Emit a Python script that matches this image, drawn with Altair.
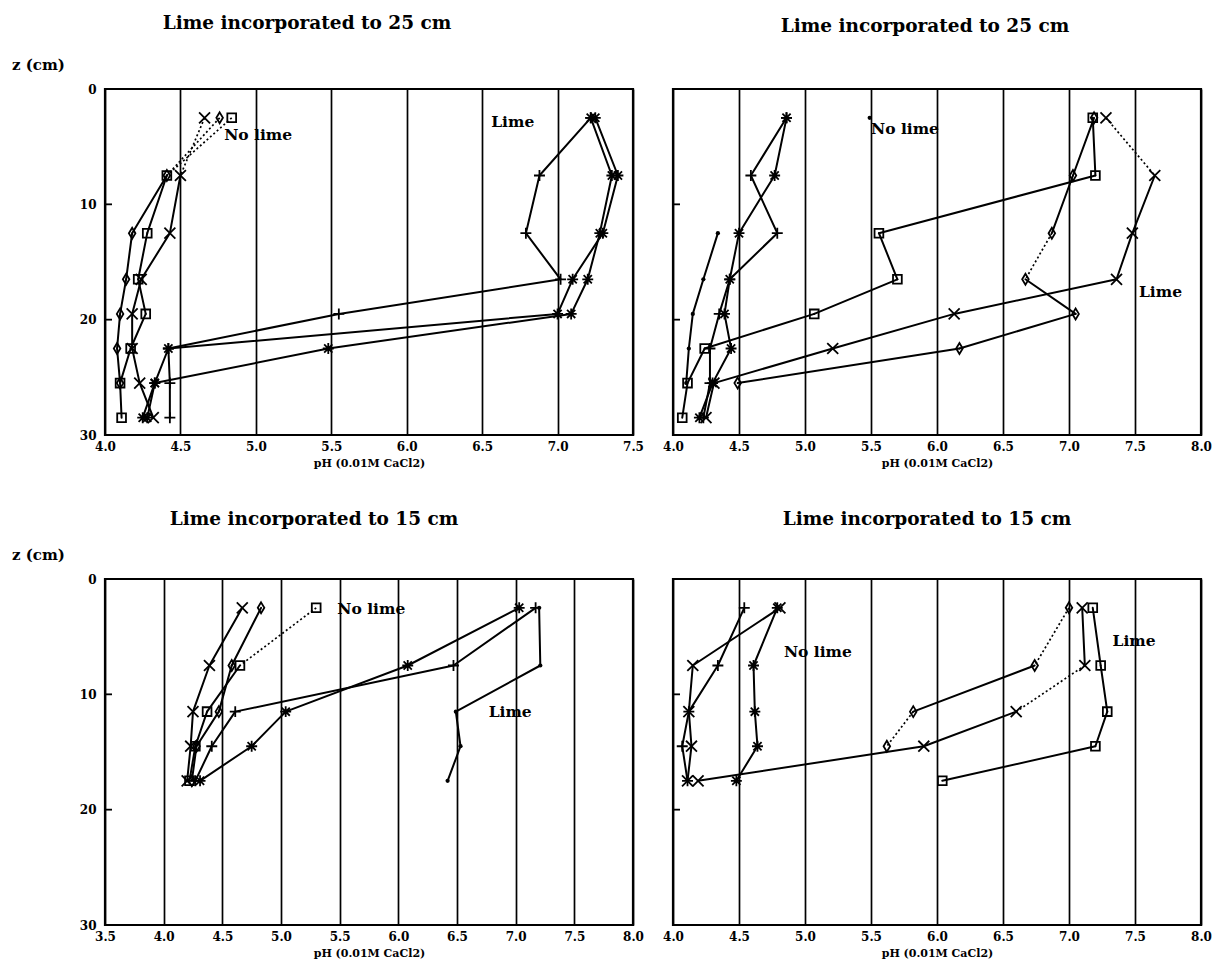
import altair as alt
import pandas as pd

FONT = "DejaVu Serif"

# ---------------- data ----------------
# Panel 1: Lime incorporated to 25 cm (left)
P1_Z = [2.5, 7.5, 12.5, 16.5, 19.5, 22.5, 25.5, 28.5]
P1_NOLIME_X = [4.66, 4.50, 4.43, 4.24, 4.18, 4.18, 4.23, 4.32]
P1_NOLIME_D = [4.76, 4.41, 4.18, 4.14, 4.10, 4.08, 4.10, None]
P1_NOLIME_S = [4.84, 4.41, 4.28, 4.22, 4.27, 4.17, 4.10, 4.11]
P1_LIME_P = [7.22, 6.88, 6.79, 7.02, 5.55, 4.42, 4.43, 4.43]
P1_LIME_A = [7.22, 7.36, 7.28, 7.20, 7.09, 5.48, 4.33, 4.25]
P1_LIME_B = [7.25, 7.40, 7.30, 7.10, 7.00, 4.42, 4.33, 4.28]

# Panel 2: Lime incorporated to 25 cm (right)
P2_Z = [2.5, 7.5, 12.5, 16.5, 19.5, 22.5, 25.5, 28.5]
P2_NOLIME_A = [4.86, 4.77, 4.50, 4.43, 4.39, 4.44, 4.30, 4.20]
P2_NOLIME_P = [4.86, 4.59, 4.79, 4.43, 4.35, 4.28, 4.28, 4.23]
P2_NOLIME_O = [5.49, None, 4.34, 4.23, 4.15, 4.12, 4.10, None]
P2_LIME_S = [7.18, 7.20, 5.56, 5.70, 5.07, 4.24, 4.11, 4.07]
P2_LIME_D = [7.19, 7.03, 6.87, 6.67, 7.05, 6.17, 4.49, None]
P2_LIME_X = [7.28, 7.65, 7.48, 7.36, 6.13, 5.21, 4.31, 4.25]

# Panel 3: Lime incorporated to 15 cm (left)
P3_Z = [2.5, 7.5, 11.5, 14.5, 17.5]
P3_NOLIME_X = [4.67, 4.39, 4.25, 4.23, 4.20]
P3_NOLIME_D = [4.83, 4.58, 4.47, 4.28, 4.24]
P3_NOLIME_S = [5.30, 4.65, 4.37, 4.27, 4.22]
P3_LIME_P = [7.17, 6.47, 4.61, 4.41, 4.27]
P3_LIME_A = [7.03, 6.08, 5.04, 4.75, 4.31]
P3_LIME_O = [7.20, 7.21, 6.49, 6.53, 6.42]

# Panel 4: Lime incorporated to 15 cm (right)
P4_Z = [2.5, 7.5, 11.5, 14.5, 17.5]
P4_NOLIME_A = [4.79, 4.61, 4.62, 4.64, 4.48]
P4_NOLIME_P = [4.54, 4.34, 4.12, 4.07, 4.11]
P4_NOLIME_X = [4.81, 4.15, 4.12, 4.14, 4.11]
P4_LIME_D = [7.00, 6.74, 5.82, 5.62, None]
P4_LIME_X = [7.10, 7.12, 6.60, 5.90, 4.19]
P4_LIME_S = [7.18, 7.24, 7.29, 7.20, 6.04]

TITLE_25 = "Lime incorporated to 25 cm"
TITLE_15 = "Lime incorporated to 15 cm"
X_TITLE = "pH (0.01M CaCl2)"
Y_TITLE = "z (cm)"
Y_TICKS = [0, 10, 20, 30]
X_TICKS_P1 = [4.0, 4.5, 5.0, 5.5, 6.0, 6.5, 7.0, 7.5]
X_TICKS_P2 = [4.0, 4.5, 5.0, 5.5, 6.0, 6.5, 7.0, 7.5, 8.0]
X_TICKS_P3 = [3.5, 4.0, 4.5, 5.0, 5.5, 6.0, 6.5, 7.0, 7.5, 8.0]
X_TICKS_P4 = [4.0, 4.5, 5.0, 5.5, 6.0, 6.5, 7.0, 7.5, 8.0]
INNER_TICKS = [10, 20]

# ---------------- styling ----------------
SHAPES = {
    "x": "M-1,-1L1,1M-1,1L1,-1",
    "plus": "M-1,0L1,0M0,-1L0,1",
    "star": "M-1,0L1,0M0,-1L0,1M-0.75,-0.75L0.75,0.75M-0.75,0.75L0.75,-0.75",
    "diamond": "M0,-1L0.6,0L0,1L-0.6,0Z",
    "square": "M-0.8,-0.8L0.8,-0.8L0.8,0.8L-0.8,0.8Z",
    "dot": "circle",
}
W, H = 528, 346


def panel(z, series, xdom, xticks, title, labels, show_y, title_dx, title_y, zlab_y):
    pts, solid, dotted = [], [], []
    for marker, vals, dots in series:
        prev = None
        for i, (zz, v) in enumerate(zip(z, vals)):
            if v is None:
                prev = None
                continue
            pts.append({"pH": v, "z": zz, "shape": SHAPES[marker],
                        "kind": "dot" if marker == "dot" else "sym"})
            if prev is not None:
                seg = {"x": prev[0], "y": prev[1], "x2": v, "y2": zz}
                (dotted if (i - 1) in dots else solid).append(seg)
            prev = (v, zz)

    xs = alt.Scale(domain=xdom, nice=False, zero=False)
    ys = alt.Scale(domain=[0, 30], reverse=True, nice=False, zero=False)
    xaxis = alt.Axis(values=xticks, format=".1f", grid=True, gridColor="black",
                     gridWidth=1.7, gridOpacity=1, ticks=False, domain=False,
                     labelFont=FONT, labelFontSize=12, labelFontWeight="bold",
                     labelColor="black", labelPadding=6, labelFlush=False,
                     labelOverlap=False, title=X_TITLE, titleFont=FONT,
                     titleFontSize=11, titleFontWeight="bold", titleColor="black",
                     titlePadding=5)
    if show_y:
        yaxis = alt.Axis(values=Y_TICKS, ticks=False, domain=False, grid=False,
                         labelFont=FONT, labelFontSize=12, labelFontWeight="bold",
                         labelColor="black", labelPadding=9, title=None)
    else:
        yaxis = None

    def X(f):
        return alt.X(f, scale=xs, axis=xaxis)

    def Y(f):
        return alt.Y(f, scale=ys, axis=yaxis)

    layers = []
    layers.append(alt.Chart(pd.DataFrame(solid)).mark_rule(
        color="black", strokeWidth=2, strokeCap="round").encode(
        x=X("x:Q"), y=Y("y:Q"), x2="x2:Q", y2="y2:Q"))
    if dotted:
        layers.append(alt.Chart(pd.DataFrame(dotted)).mark_rule(
            color="black", strokeWidth=1.7, strokeDash=[2, 2.5]).encode(
            x=X("x:Q"), y=Y("y:Q"), x2="x2:Q", y2="y2:Q"))
    dfp = pd.DataFrame(pts)
    sym = dfp[dfp["kind"] == "sym"]
    dot = dfp[dfp["kind"] == "dot"]
    layers.append(alt.Chart(sym).mark_point(
        filled=False, color="black", strokeWidth=1.8, size=120, opacity=1).encode(
        x=X("pH:Q"), y=Y("z:Q"), shape=alt.Shape("shape:N", scale=None)))
    if len(dot):
        layers.append(alt.Chart(dot).mark_circle(color="black", size=18, opacity=1).encode(
            x=X("pH:Q"), y=Y("z:Q")))
    layers.append(alt.Chart(pd.DataFrame({"t": INNER_TICKS})).mark_rule(
        color="black", strokeWidth=1.8).encode(
        y=Y("t:Q"), x=alt.value(0), x2=alt.value(7)))
    layers.append(alt.Chart(pd.DataFrame(labels)).mark_text(
        align="left", baseline="middle", font=FONT, fontSize=15.5,
        fontWeight="bold", color="black").encode(
        x=X("x:Q"), y=Y("y:Q"), text="text:N"))
    # panel title above the frame
    layers.append(alt.Chart(pd.DataFrame({"t": [title]})).mark_text(
        align="center", baseline="middle", font=FONT, fontSize=18.5,
        fontWeight="bold", color="black").encode(
        x=alt.value(W / 2 + title_dx), y=alt.value(title_y), text="t:N"))
    if show_y:
        layers.append(alt.Chart(pd.DataFrame({"t": [Y_TITLE]})).mark_text(
            align="left", baseline="middle", font=FONT, fontSize=15,
            fontWeight="bold", color="black").encode(
            x=alt.value(-93), y=alt.value(zlab_y), text="t:N"))

    return alt.layer(*layers).properties(width=W, height=H)


p1 = panel(P1_Z, [("x", P1_NOLIME_X, [0]), ("diamond", P1_NOLIME_D, [0]),
                  ("square", P1_NOLIME_S, [0]), ("plus", P1_LIME_P, []),
                  ("star", P1_LIME_A, []), ("star", P1_LIME_B, [])],
           [4.0, 7.5], X_TICKS_P1, TITLE_25,
           {"x": [4.79, 6.56], "y": [4.0, 2.9], "text": ["No lime", "Lime"]}, True,
           -62, -66, -24)

p2 = panel(P2_Z, [("star", P2_NOLIME_A, []), ("plus", P2_NOLIME_P, []),
                  ("dot", P2_NOLIME_O, []), ("square", P2_LIME_S, []),
                  ("diamond", P2_LIME_D, [2]), ("x", P2_LIME_X, [0])],
           [4.0, 8.0], X_TICKS_P2, TITLE_25,
           {"x": [5.50, 7.53], "y": [3.5, 17.6], "text": ["No lime", "Lime"]}, False,
           -12, -63, -24)

p3 = panel(P3_Z, [("x", P3_NOLIME_X, []), ("diamond", P3_NOLIME_D, []),
                  ("square", P3_NOLIME_S, [0]), ("plus", P3_LIME_P, []),
                  ("star", P3_LIME_A, []), ("dot", P3_LIME_O, [])],
           [3.5, 8.0], X_TICKS_P3, TITLE_15,
           {"x": [5.48, 6.77], "y": [2.6, 11.5], "text": ["No lime", "Lime"]}, True,
           -55, -60, -24)

p4 = panel(P4_Z, [("star", P4_NOLIME_A, []), ("plus", P4_NOLIME_P, []),
                  ("x", P4_NOLIME_X, []), ("diamond", P4_LIME_D, [0, 2]),
                  ("x", P4_LIME_X, [1]), ("square", P4_LIME_S, [])],
           [4.0, 8.0], X_TICKS_P4, TITLE_15,
           {"x": [4.84, 7.33], "y": [6.3, 5.4], "text": ["No lime", "Lime"]}, False,
           -10, -60, -24)

chart = alt.concat(p1, p2, p3, p4, columns=2, spacing={"row": 144, "column": 40},
                   bounds="flush").properties(
    padding={"left": 2, "top": 4, "right": 5, "bottom": 5},
    background="white",
).configure_view(stroke="black", strokeWidth=2.2)

chart.save("out.html", embed_options={"renderer": "svg", "actions": False})
